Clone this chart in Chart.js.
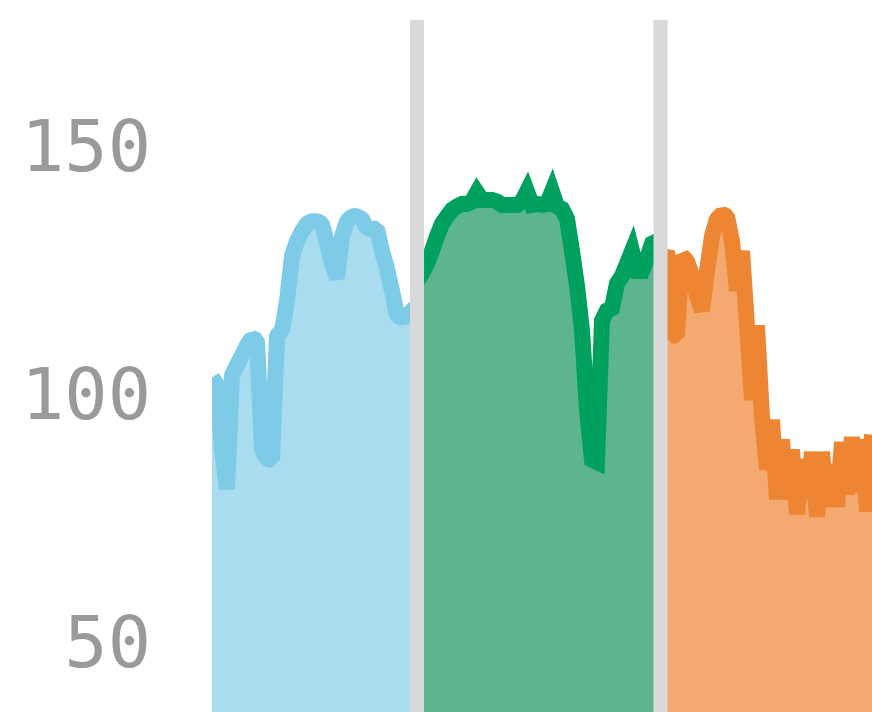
<!DOCTYPE html>
<html>
<head>
<meta charset="utf-8">
<script src="https://cdn.jsdelivr.net/npm/chart.js@4.4.1/dist/chart.umd.min.js"></script>
<style>
  html, body { margin: 0; padding: 0; background: #fff; }
  #wrap { width: 872px; height: 712px; position: relative; }
</style>
</head>
<body>
<div id="wrap"><canvas id="chart"></canvas></div>
<script>
// Where each phase starts on the sample axis
const blueStart = 0;
const greenStart = 41;
const orangeStart = 90;

// Phase 1 (blue)
const blueValues = [104.5, 103, 90, 82, 105, 107, 109, 111, 112.5, 112, 90, 88, 88, 113, 114, 120,
    129, 132, 134, 135.5, 136, 136, 135.5, 131.5, 127.5, 124.5, 133, 136, 137, 137, 136.5, 134.5,
    134.5, 134.5, 130, 126.5, 122, 117, 116.5, 117, 118, 119];

// Phase 2 (green)
const greenValues = [124, 125.5, 127.5, 130, 133, 135.5, 137, 138.3, 139, 139.5, 139.5, 140, 141.8,
    140.3, 140.3, 140.3, 140, 139.3, 139.3, 139.3, 139.3, 140, 142, 139.3, 139.5, 139.3, 139.5,
    142, 139, 138.5, 136.5, 130, 123, 114, 98, 88, 87.5, 116, 118, 118.5, 123.5, 125, 127.5, 130,
    126, 126, 128.5, 131.5, 132, 131];

// Phase 3 (orange)
const orangeValues = [128, 130, 113, 113, 129, 128, 125, 121, 118, 126, 133, 136.5, 137.5, 137,
    132, 122, 130, 115, 100, 115, 96.5, 86, 96, 80, 92, 80, 90, 77, 88, 80, 89.5, 76.5, 89.5, 78.5,
    87, 78.5, 91.5, 81, 92.5, 81.5, 92, 77.5, 93];

// Separators between phases (sample positions) and tick labels
const breaks = [41, 89.7];
const breakTop = 176.6;
const yTicks = [50, 100, 150];

const toPoints = (start, values) => values.map((v, i) => ({ x: start + i, y: v }));

// draws the grey bars between the phases
const separators = {
    id: 'separators',
    afterDatasetsDraw(chart) {
        const { ctx, scales: { x, y } } = chart;
        ctx.save();
        ctx.fillStyle = '#d9d9d9';
        breaks.forEach(b => {
            const px = x.getPixelForValue(b);
            const top = y.getPixelForValue(breakTop);
            ctx.fillRect(px - 7, top, 14, y.bottom - top);
        });
        ctx.restore();
    }
};

const ctx = document.getElementById('chart').getContext('2d');
new Chart(ctx, {
    type: 'line',
    data: {
        datasets: [{
            data: toPoints(blueStart, blueValues),
            borderColor: '#7ecbe7',
            backgroundColor: '#a9dcef',
            borderJoinStyle: 'bevel'
        }, {
            data: toPoints(greenStart, greenValues),
            borderColor: '#00a05f',
            backgroundColor: '#5cb58e',
            borderJoinStyle: 'miter'
        }, {
            data: toPoints(orangeStart, orangeValues),
            borderColor: '#ee8533',
            backgroundColor: '#f3a96f',
            borderJoinStyle: 'bevel'
        }]
    },
    options: {
        responsive: true,
        maintainAspectRatio: false,
        animation: false,
        layout: { padding: 0 },
        elements: {
            line: { borderWidth: 16, tension: 0, fill: 'start', borderCapStyle: 'butt' },
            point: { radius: 0 }
        },
        plugins: {
            legend: { display: false },
            tooltip: { enabled: false }
        },
        scales: {
            x: {
                type: 'linear',
                min: 0,
                max: 132,
                display: false
            },
            y: {
                min: 37.1,
                max: 180.6,
                grid: { display: false },
                border: { display: false },
                ticks: {
                    color: '#9a9a9a',
                    padding: 53,
                    font: { family: 'DejaVu Sans Mono', size: 72 }
                },
                afterBuildTicks(scale) {
                    scale.ticks = yTicks.map(v => ({ value: v }));
                },
                afterFit(scale) {
                    scale.width = 212;
                    scale.paddingTop = 0;
                    scale.paddingBottom = 0;
                }
            }
        }
    },
    plugins: [separators]
});
</script>
</body>
</html>
